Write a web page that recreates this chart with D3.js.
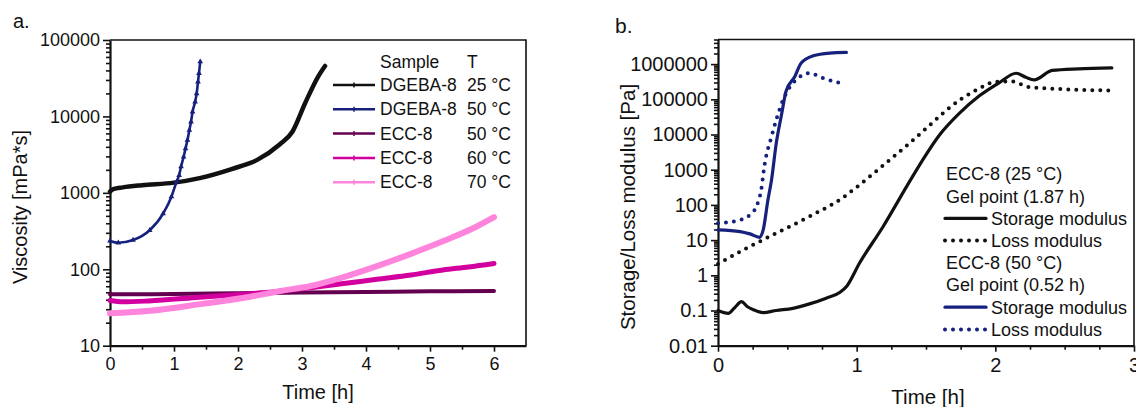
<!DOCTYPE html>
<html>
<head>
<meta charset="utf-8">
<script src="https://cdn.jsdelivr.net/npm/d3@7"></script>
<style>
  body { margin: 0; background: #fff; }
  svg text { font-family: "Liberation Sans", Arial, sans-serif; fill: #111; }
</style>
</head>
<body>
<div id="canvas"></div>
<script>
// ---- panel a: viscosity vs time ----
var tDgeba25 = [0, 0.05, 0.2, 0.5, 1.0, 1.4, 1.9, 2.3, 2.65, 2.85, 3.05, 3.25, 3.36];
var vDgeba25 = [1040, 1120, 1180, 1260, 1360, 1560, 2050, 2700, 4300, 6300, 15000, 33000, 45700];

var tDgeba50 = [0, 0.13, 0.36, 0.62, 0.83, 0.96, 1.04, 1.08, 1.11, 1.15, 1.18, 1.21, 1.24, 1.266, 1.29, 1.33, 1.354, 1.375, 1.39, 1.41];
var vDgeba50 = [235, 222, 241, 324, 535, 890, 1400, 1700, 2200, 2950, 3800, 4900, 6600, 8500, 11500, 15500, 19900, 28400, 36600, 52000];

var tEcc50 = [0, 1, 2, 3, 4, 5, 6];
var vEcc50 = [47, 47.5, 48.5, 49.5, 50.5, 51.5, 52];

var tEcc60 = [0, 0.2, 0.6, 1.4, 2.2, 2.7, 3.1, 3.65, 4.17, 4.7, 5.2, 5.6, 6.0];
var vEcc60 = [39, 37.5, 38.5, 43, 48, 52, 57, 65, 74, 84, 98, 107, 119];

var tEcc70 = [0, 0.62, 1.41, 2.19, 2.66, 3.12, 3.65, 4.17, 4.69, 5.21, 5.73, 6.0];
var vEcc70 = [26.5, 28.6, 35, 43.7, 52, 60, 79, 110, 158, 234, 363, 480];

var legendSample = ['DGEBA-8', 'DGEBA-8', 'ECC-8', 'ECC-8', 'ECC-8'];
var legendTemp = ['25 \u00B0C', '50 \u00B0C', '50 \u00B0C', '60 \u00B0C', '70 \u00B0C'];
var viscTicks = [10, 100, 1000, 10000, 100000];
var timeTicksA = [0, 1, 2, 3, 4, 5, 6];

// ---- panel b: storage / loss modulus vs time ----
var tG25s = [0, 0.074, 0.12, 0.17, 0.21, 0.255, 0.326, 0.42, 0.54, 0.66, 0.78, 0.88, 0.93, 1.02, 1.19, 1.38, 1.48, 1.6, 1.74, 1.885, 2.03, 2.15, 2.22, 2.28, 2.41, 2.6, 2.84];
var gStor25 = [0.1, 0.083, 0.12, 0.178, 0.13, 0.105, 0.087, 0.1, 0.115, 0.154, 0.224, 0.33, 0.5, 2.2, 24, 450, 2000, 10000, 40000, 126000, 300000, 550000, 423000, 357000, 660000, 735000, 780000];

var tG25l = [0, 0.18, 0.42, 0.66, 0.9, 1.0, 1.14, 1.26, 1.38, 1.51, 1.645, 1.75, 1.835, 1.92, 2.0, 2.12, 2.245, 2.48, 2.82];
var gLoss25 = [2.1, 5.2, 15.7, 47, 160, 320, 900, 2240, 5600, 16000, 48000, 100000, 160000, 240000, 316000, 320000, 222000, 195000, 178000];

var tG50s = [0, 0.16, 0.23, 0.3, 0.326, 0.36, 0.386, 0.42, 0.46, 0.49, 0.554, 0.6, 0.687, 0.806, 0.926];
var gStor50 = [19.5, 17.5, 15, 12, 19.6, 138, 513, 5600, 40000, 167000, 444000, 1070000, 1720000, 2050000, 2140000];

var tG50l = [0, 0.16, 0.23, 0.276, 0.31, 0.338, 0.386, 0.42, 0.46, 0.506, 0.578, 0.66, 0.757, 0.9];
var gLoss50 = [30, 37.5, 52, 89, 250, 1550, 8700, 26000, 78000, 186000, 400000, 550000, 400000, 275000];

var modTicks = [0.01, 0.1, 1, 10, 100, 1000, 10000, 100000, 1000000];
var timeTicksB = [0, 1, 2, 3];
var legendB = ['ECC-8 (25 \u00B0C)', 'Gel point (1.87 h)', 'Storage modulus', 'Loss modulus',
               'ECC-8 (50 \u00B0C)', 'Gel point (0.52 h)', 'Storage modulus', 'Loss modulus'];

var W = 1136, H = 407;
var svg = d3.select('#canvas').append('svg')
      .attr('width', W)
      .attr('height', H);

var navy = '#15217c';

function zip(ts, vs) {
  return ts.map(function (t, i) { return [t, vs[i]]; });
}

function logMinors(lo, hi) {
  var out = [];
  for (var e = Math.floor(Math.log10(lo)); e < Math.ceil(Math.log10(hi)); e++) {
    for (var k = 2; k < 10; k++) {
      var v = k * Math.pow(10, e);
      if (v >= lo && v <= hi) out.push(v);
    }
  }
  return out;
}

function drawAxes(g, x, y, opt) {
  var left = x.range()[0], right = x.range()[1];
  var top = y.range()[1], bottom = y.range()[0];

  // frame (top + right)
  g.append('path')
    .attr('d', 'M' + left + ',' + top + 'H' + right + 'V' + bottom)
    .attr('fill', 'none').attr('stroke', '#111').attr('stroke-width', 1.6);

  var yMinor = g.append('g').attr('transform', 'translate(' + left + ',0)')
    .call(d3.axisLeft(y).tickValues(logMinors(y.domain()[0], y.domain()[1])).tickSize(4).tickFormat(''));
  yMinor.select('.domain').remove();

  var yMajor = g.append('g').attr('transform', 'translate(' + left + ',0)')
    .call(d3.axisLeft(y).tickValues(opt.yTicks).tickSize(7).tickSizeOuter(0).tickPadding(3)
      .tickFormat(opt.yFormat));

  var xMinor = g.append('g').attr('transform', 'translate(0,' + bottom + ')')
    .call(d3.axisBottom(x).tickValues(opt.xMinor).tickSize(4).tickFormat(''));
  xMinor.select('.domain').remove();

  var xMajor = g.append('g').attr('transform', 'translate(0,' + bottom + ')')
    .call(d3.axisBottom(x).tickValues(opt.xTicks).tickSize(6).tickSizeOuter(0).tickPadding(6)
      .tickFormat(d3.format('d')));

  [yMinor, yMajor, xMinor, xMajor].forEach(function (a) {
    a.selectAll('line').attr('stroke', '#111').attr('stroke-width', 1.6);
    a.selectAll('.domain').attr('stroke', '#111').attr('stroke-width', 2.2);
    a.selectAll('text').style('font-size', opt.tickFont + 'px').attr('fill', '#111');
  });
}

// ================= panel a =================
var xa = d3.scaleLinear().domain([0, 6.5]).range([110, 526]);
var ya = d3.scaleLog().domain([10, 100000]).range([345.7, 40]);
var ga = svg.append('g');

drawAxes(ga, xa, ya, {
  yTicks: viscTicks, xTicks: timeTicksA,
  xMinor: d3.range(0.5, 6.5, 1),
  yFormat: d3.format('d'), tickFont: 18
});

var lineA = d3.line()
  .x(function (d) { return xa(d[0]); })
  .y(function (d) { return ya(d[1]); })
  .curve(d3.curveMonotoneX);

var seriesA = [
  { t: tEcc50, v: vEcc50, color: '#640050', w: 4, marks: false },
  { t: tEcc60, v: vEcc60, color: '#d2009e', w: 5, marks: false },
  { t: tEcc70, v: vEcc70, color: '#ff84dc', w: 6, marks: false },
  { t: tDgeba25, v: vDgeba25, color: '#111', w: 4.5, marks: false },
  { t: tDgeba50, v: vDgeba50, color: navy, w: 2.6, marks: true }
];

seriesA.forEach(function (s) {
  var pts = zip(s.t, s.v);
  ga.append('path')
    .datum(pts)
    .attr('d', lineA)
    .attr('fill', 'none')
    .attr('stroke', s.color)
    .attr('stroke-width', s.w)
    .attr('stroke-linecap', 'round');
  if (s.marks) {
    ga.selectAll(null).data(pts).enter().append('path')
      .attr('d', d3.symbol().type(d3.symbolTriangle).size(14))
      .attr('transform', function (d) { return 'translate(' + xa(d[0]) + ',' + ya(d[1]) + ')'; })
      .attr('fill', s.color);
  }
});

// legend a
var legA = ga.append('g');
legA.append('text').attr('x', 380).attr('y', 62).attr('dy', '0.35em').style('font-size', '17.5px').text('Sample');
legA.append('text').attr('x', 467).attr('y', 62).attr('dy', '0.35em').style('font-size', '17.5px').text('T');
var legColors = [seriesA[3].color, seriesA[4].color, seriesA[0].color, seriesA[1].color, seriesA[2].color];
legendSample.forEach(function (name, i) {
  var yy = 85 + i * 24.3;
  legA.append('line').attr('x1', 333).attr('x2', 375).attr('y1', yy).attr('y2', yy)
    .attr('stroke', legColors[i]).attr('stroke-width', 2.5);
  legA.append('line').attr('x1', 354).attr('x2', 354).attr('y1', yy - 2.5).attr('y2', yy + 2.5)
    .attr('stroke', legColors[i]).attr('stroke-width', 1.5);
  legA.append('text').attr('x', 380).attr('y', yy).attr('dy', '0.35em').style('font-size', '17.5px').text(name);
  legA.append('text').attr('x', 467).attr('y', yy).attr('dy', '0.35em').style('font-size', '17.5px').text(legendTemp[i]);
});

ga.append('text').attr('x', 318).attr('y', 399).attr('text-anchor', 'middle')
  .style('font-size', '20px').text('Time [h]');
ga.append('text').attr('transform', 'translate(27,207) rotate(-90)').attr('text-anchor', 'middle')
  .style('font-size', '20px').text('Viscosity [mPa*s]');
ga.append('text').attr('x', 13).attr('y', 28).style('font-size', '20px').text('a.');

// ================= panel b =================
var xb = d3.scaleLinear().domain([0, 3]).range([718, 1134]);
var yb = d3.scaleLog().domain([0.01, 5e6]).range([345.7, 39.5]);
var gb = svg.append('g');

function fmtMod(d) {
  return d < 1 ? String(d) : d3.format('d')(d);
}

drawAxes(gb, xb, yb, {
  yTicks: modTicks, xTicks: timeTicksB,
  xMinor: [0.25, 0.5, 0.75, 1.25, 1.5, 1.75, 2.25, 2.5, 2.75],
  yFormat: fmtMod, tickFont: 20
});

var lineB = d3.line()
  .x(function (d) { return xb(d[0]); })
  .y(function (d) { return yb(d[1]); })
  .curve(d3.curveMonotoneX);

var seriesB = [
  { t: tG25l, v: gLoss25, color: '#111', dotted: true },
  { t: tG25s, v: gStor25, color: '#111', dotted: false },
  { t: tG50l, v: gLoss50, color: navy, dotted: true },
  { t: tG50s, v: gStor50, color: navy, dotted: false }
];

function styleB(sel, s) {
  sel.attr('fill', 'none').attr('stroke', s.color).attr('stroke-linecap', 'round');
  if (s.dotted) {
    sel.attr('stroke-width', 4).attr('stroke-dasharray', '0,8');
  } else {
    sel.attr('stroke-width', 3.2);
  }
}

seriesB.forEach(function (s) {
  gb.append('path').datum(zip(s.t, s.v)).attr('d', lineB).call(styleB, s);
});

// legend b
var legB = gb.append('g');
var legStyles = [null, null, seriesB[1], seriesB[0], null, null, seriesB[3], seriesB[2]];
legendB.forEach(function (txt, i) {
  var yy = 174 + i * 22.2;
  var s = legStyles[i];
  if (s) {
    legB.append('line').attr('x1', 945).attr('x2', 986).attr('y1', yy).attr('y2', yy).call(styleB, s);
    legB.append('text').attr('x', 991).attr('y', yy).attr('dy', '0.35em').style('font-size', '18px').text(txt);
  } else {
    legB.append('text').attr('x', 946).attr('y', yy).attr('dy', '0.35em').style('font-size', '18px').text(txt);
  }
});

gb.append('text').attr('x', 928).attr('y', 404).attr('text-anchor', 'middle')
  .style('font-size', '20.5px').text('Time [h]');
gb.append('text').attr('transform', 'translate(635,207) rotate(-90)').attr('text-anchor', 'middle')
  .style('font-size', '20.5px').text('Storage/Loss modulus [Pa]');
gb.append('text').attr('x', 615).attr('y', 33).style('font-size', '21px').text('b.');
</script>
</body>
</html>
